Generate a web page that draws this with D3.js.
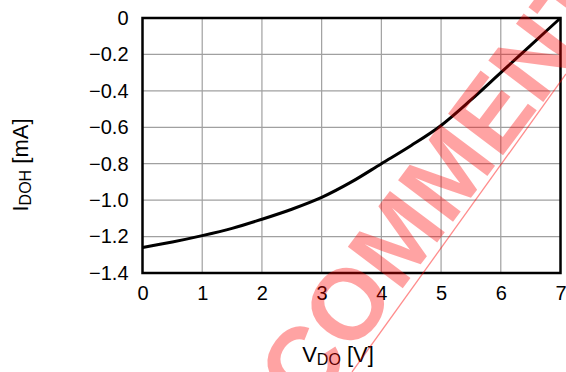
<!DOCTYPE html>
<html>
<head>
<meta charset="utf-8">
<script src="https://cdn.jsdelivr.net/npm/d3@7"></script>
<style>
  html, body { margin: 0; padding: 0; background: #fff; }
  svg { display: block; font-family: "Liberation Sans", Arial, sans-serif; }
</style>
</head>
<body>
<svg id="chart" width="566" height="372"></svg>
<script>
// ---- data ----
const vdo = [0, 0.5, 1, 1.5, 2, 2.5, 3, 3.5, 4, 4.5, 5, 5.5, 6, 6.5, 7];
const idoh = [-1.26, -1.23, -1.195, -1.155, -1.105, -1.05, -0.985, -0.90, -0.80, -0.70, -0.59, -0.45, -0.30, -0.15, 0];
const xTicks = [0, 1, 2, 3, 4, 5, 6, 7];
const yTicks = [0, -0.2, -0.4, -0.6, -0.8, -1.0, -1.2, -1.4];
const yTickLabels = ["0", "\u22120.2", "\u22120.4", "\u22120.6", "\u22120.8", "\u22121.0", "\u22121.2", "\u22121.4"];
const xTitle = ["V", "DO", " [V]"];
const yTitle = ["I", "DOH", " [mA]"];
const watermark = "COMMENT";

// ---- layout ----
const svg = d3.select("#chart");
const L = 142.5, R = 560.5, T = 18, B = 273;
const x = d3.scaleLinear().domain([0, 7]).range([L, R]);
const y = d3.scaleLinear().domain([-1.4, 0]).range([B, T]);

// grid
const grid = svg.append("g").attr("stroke", "#a0a0a0").attr("stroke-width", 1.2);
grid.selectAll("line.v").data(xTicks.slice(1, -1)).join("line")
  .attr("x1", d => x(d)).attr("x2", d => x(d)).attr("y1", T).attr("y2", B);
grid.selectAll("line.h").data(yTicks.slice(1, -1)).join("line")
  .attr("y1", d => y(d)).attr("y2", d => y(d)).attr("x1", L).attr("x2", R);

// axes (labels only)
const yAxis = svg.append("g").attr("transform", `translate(${L},0)`)
  .call(d3.axisLeft(y).tickValues(yTicks).tickSize(0).tickPadding(14)
    .tickFormat((d, i) => yTickLabels[i]));
const xAxis = svg.append("g").attr("transform", `translate(0,${B})`)
  .call(d3.axisBottom(x).tickValues(xTicks).tickSize(0).tickPadding(13)
    .tickFormat(d => String(d)));
[yAxis, xAxis].forEach(a => {
  a.select(".domain").remove();
  a.selectAll("text").attr("font-size", 20).attr("fill", "#000")
    .attr("font-family", "'Liberation Sans', Arial, sans-serif");
});

// curve
const pts = vdo.map((v, i) => [v, idoh[i]]);
svg.append("path").datum(pts)
  .attr("fill", "none").attr("stroke", "#000").attr("stroke-width", 3)
  .attr("stroke-linejoin", "round")
  .attr("d", d3.line().x(d => x(d[0])).y(d => y(d[1])).curve(d3.curveMonotoneX));

// frame
svg.append("rect").attr("x", L).attr("y", T).attr("width", R - L).attr("height", B - T)
  .attr("fill", "none").attr("stroke", "#000").attr("stroke-width", 2.5);

// titles
const xt = svg.append("text").attr("x", 338).attr("y", 362)
  .attr("text-anchor", "middle").attr("font-size", 22).attr("fill", "#000");
xt.append("tspan").text(xTitle[0]);
xt.append("tspan").attr("font-size", 16).attr("dy", 3).text(xTitle[1]);
xt.append("tspan").attr("dy", -3).text(xTitle[2]);

const yt = svg.append("text").attr("transform", "translate(28,165) rotate(-90)")
  .attr("text-anchor", "middle").attr("font-size", 22).attr("fill", "#000");
yt.append("tspan").text(yTitle[0]);
yt.append("tspan").attr("font-size", 16).attr("dy", 3).text(yTitle[1]);
yt.append("tspan").attr("dy", -3).text(yTitle[2]);

// watermark
const wm = svg.append("g").attr("pointer-events", "none");
wm.append("text").attr("transform", "translate(436,186) rotate(-53)")
  .attr("text-anchor", "middle").attr("dominant-baseline", "central")
  .attr("font-size", 100).attr("font-weight", "bold")
  .attr("fill", "rgba(255,0,0,0.36)").text(watermark);
wm.append("line").attr("x1", 352).attr("y1", 372).attr("x2", 566).attr("y2", 74)
  .attr("stroke", "rgba(255,0,0,0.45)").attr("stroke-width", 1.3);
</script>
</body>
</html>
